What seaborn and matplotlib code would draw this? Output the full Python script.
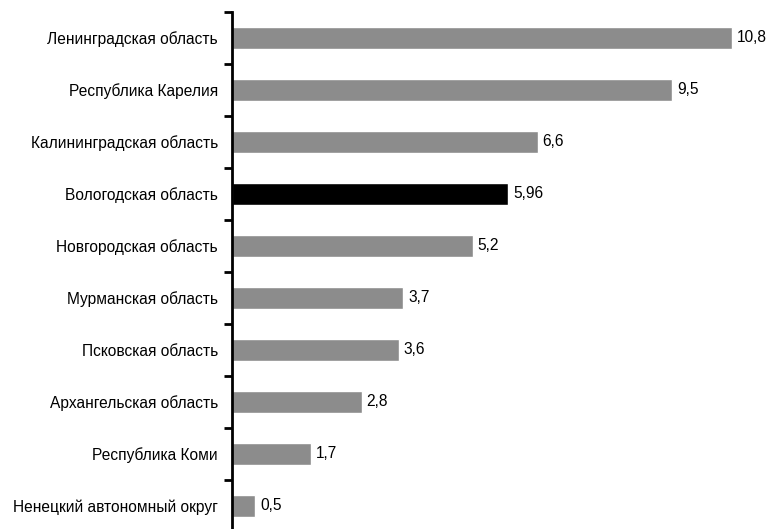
import matplotlib
matplotlib.use("Agg")
import matplotlib.pyplot as plt
from matplotlib import font_manager
import seaborn as sns
import pandas as pd
import numpy as np

regions = ["Ленинградская область", "Республика Карелия", "Калининградская область",
           "Вологодская область", "Новгородская область", "Мурманская область",
           "Псковская область", "Архангельская область", "Республика Коми",
           "Ненецкий автономный округ"]
values = [10.8, 9.5, 6.6, 5.96, 5.2, 3.7, 3.6, 2.8, 1.7, 0.5]
labels = ["10,8", "9,5", "6,6", "5,96", "5,2", "3,7", "3,6", "2,8", "1,7", "0,5"]
highlight = "Вологодская область"

sns.set_theme(style="white")
names = {f.name for f in font_manager.fontManager.ttflist}
if "Liberation Sans Narrow" in names:
    fam = ['Liberation Sans Narrow', 'DejaVu Sans']
    fs = 13.5
else:
    fam = ['Liberation Sans', 'DejaVu Sans']
    fs = 11.2
plt.rcParams['font.family'] = fam

df = pd.DataFrame({"region": regions, "value": values})
palette = {r: ("#000000" if r == highlight else "#8c8c8c") for r in regions}

fig = plt.figure(figsize=(7.71, 5.29), dpi=100)
ax = fig.add_axes([232/771, (529-532)/529, (771-232)/771, (532-12)/529])
sns.barplot(data=df, x="value", y="region", hue="region", palette=palette,
            order=regions, width=0.44, legend=False, ax=ax, saturation=1)

ax.set_xlim(0, 539/46.3)
ax.set_ylim(len(regions)-0.5, -0.5)
ax.set_xlabel("")
ax.set_ylabel("")
ax.set_xticks([])
for s in ["top", "right", "bottom"]:
    ax.spines[s].set_visible(False)
ax.spines["left"].set_linewidth(2)
ax.spines["left"].set_color("black")

ax.tick_params(axis="y", which="major", length=0, labelsize=fs, pad=10, labelcolor="black")
ax.set_yticks(np.arange(-0.5, len(regions)+0.5, 1), minor=True)
ax.tick_params(axis="y", which="minor", length=6, width=2, color="black", left=True)

for i, (v, lab) in enumerate(zip(values, labels)):
    ax.text(v + 0.11, i, lab, va="center", ha="left", fontsize=fs, color="black")

fig.savefig("out.png", dpi=100)
